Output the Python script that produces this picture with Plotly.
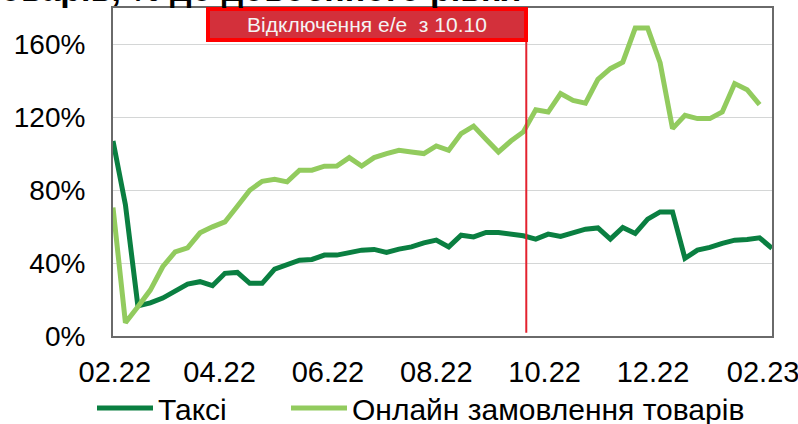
import plotly.graph_objects as go
import pandas as pd

# ---- data ----
taxi = [107.0, 72.0, 16.5, 18.2, 20.8, 24.3, 28.5, 29.8, 27.6, 34.4,
        34.9, 28.9, 28.9, 36.7, 38.9, 41.6, 42.0, 44.4, 44.4, 45.7,
        47.1, 47.5, 45.9, 47.7, 48.9, 51.1, 52.6, 48.9, 55.3, 54.4,
        56.8, 56.8, 55.9, 55.0, 53.2, 55.9, 54.6, 56.3, 58.6, 59.3,
        53.2, 59.6, 56.3, 64.1, 68.1, 68.1, 42.6, 47.1, 48.6, 50.8,
        52.6, 53.0, 53.9, 48.1]
online = [70.5, 7.3, 16.0, 25.2, 38.0, 46.2, 48.4, 56.6, 59.9, 62.6,
          71.2, 80.0, 84.9, 86.0, 84.6, 91.0, 91.0, 93.2, 93.3, 97.9,
          93.3, 97.9, 100.1, 101.9, 101.0, 100.1, 104.3, 101.9, 111.1, 115.2,
          108.0, 101.0, 107.0, 112.0, 124.2, 122.9, 133.0, 129.3, 127.8, 140.8,
          146.7, 150.3, 169.0, 169.0, 150.0, 113.8, 121.1, 119.3, 119.3, 122.9,
          138.5, 135.2, 127.0]
dates = pd.date_range("2022-01-31", periods=len(taxi), freq="7D")
series_names = ["Таксі", "Онлайн замовлення товарів"]
x_tick_vals = ["2022-02-01", "2022-04-01", "2022-06-01", "2022-08-01",
               "2022-10-01", "2022-12-01", "2023-02-01"]
x_tick_text = ["02.22", "04.22", "06.22", "08.22", "10.22", "12.22", "02.23"]
y_tick_vals = [0, 40, 80, 120, 160]
y_tick_text = ["0%", "40%", "80%", "120%", "160%"]
event_date = "2022-09-20T16:00"
event_label = "Відключення е/е  з 10.10"
title_tail = "товарів, % до довоєнного рівня"

FONT = "Arial, Liberation Sans, sans-serif"
DARK = "#0a7f41"
LIGHT = "#92cb5e"

fig = go.Figure()
fig.add_trace(go.Scatter(x=dates, y=taxi, name=series_names[0], mode="lines",
                         line=dict(color=DARK, width=5), legend="legend"))
fig.add_trace(go.Scatter(x=dates[:len(online)], y=online, name=series_names[1],
                         mode="lines", line=dict(color=LIGHT, width=5),
                         legend="legend2"))

fig.add_shape(type="line", xref="x", yref="paper", x0=event_date, x1=event_date,
              y0=0.01, y1=0.95, line=dict(color="#e3222f", width=2))

fig.add_annotation(text=event_label, xref="paper", yref="paper",
                   x=0.3854, y=0.951, xanchor="center", yanchor="middle",
                   showarrow=False, font=dict(family=FONT, size=21, color="#f4f4f4"),
                   bgcolor="#d3303b", bordercolor="#ff0000", borderwidth=4,
                   borderpad=0, width=314, height=27)

fig.add_annotation(text="<b>" + title_tail + "</b>", xref="paper", yref="paper",
                   x=(-18 - 113) / 659, y=0.994, xanchor="left", yanchor="bottom",
                   showarrow=False, font=dict(family=FONT, size=34, color="#000000"))

legend_common = dict(orientation="h", xanchor="left",
                     y=(336 - 408) / 328, yanchor="middle",
                     font=dict(family=FONT, size=30, color="#000000"),
                     itemwidth=56, bgcolor="rgba(0,0,0,0)", borderwidth=0)

fig.update_layout(
    width=798, height=424,
    margin=dict(l=113, r=26, t=8, b=88, autoexpand=False),
    paper_bgcolor="white", plot_bgcolor="white",
    font=dict(family=FONT, size=28, color="#000000"),
    showlegend=True,
    legend=dict(x=(92 - 113) / 659, **legend_common),
    legend2=dict(x=(286 - 113) / 659, **legend_common),
)
fig.update_xaxes(type="date", range=["2022-01-31", "2023-02-06"],
                 tickvals=x_tick_vals, ticktext=x_tick_text,
                 showgrid=False, showline=True, linecolor="#6a6a6a", linewidth=2,
                 mirror=True, ticks="", ticklabelstandoff=9, automargin=False,
                 ticklabeloverflow="allow",
                 tickfont=dict(family=FONT, size=29, color="#000000"))
fig.update_yaxes(range=[0, 180], tickvals=y_tick_vals, ticktext=y_tick_text,
                 showgrid=True, gridcolor="#d4d6d6", gridwidth=1,
                 showline=True, linecolor="#6a6a6a", linewidth=2, mirror=True,
                 zeroline=False, ticks="", ticklabelstandoff=20, automargin=False,
                 tickfont=dict(family=FONT, size=28, color="#000000"))

fig.write_html("out.html", config={"displayModeBar": False},
               post_script="document.body.style.margin='0';"
                           "document.body.style.overflow='hidden';")
